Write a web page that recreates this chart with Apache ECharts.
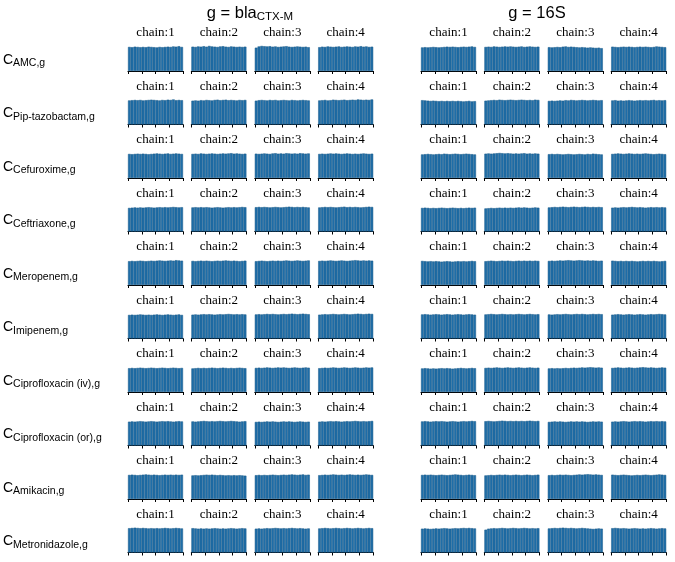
<!DOCTYPE html>
<html><head><meta charset="utf-8">
<script src="https://cdn.jsdelivr.net/npm/echarts@6/dist/echarts.min.js"></script>
<style>html,body{margin:0;padding:0;background:#fff}#c{width:675px;height:562px}</style>
</head><body><div id="c"></div><script>
const groupTitles = [['g = bla', 'CTX-M'], ['g = 16S', '']];
const rowNames = ['AMC', 'Pip-tazobactam', 'Cefuroxime', 'Ceftriaxone', 'Meropenem', 'Imipenem', 'Ciprofloxacin (iv)', 'Ciprofloxacin (or)', 'Amikacin', 'Metronidazole'];
const chainLabels = ['chain:1', 'chain:2', 'chain:3', 'chain:4'];
const tickValues = [0, 1, 2, 3, 4];

// rank histogram heights (20 bins per chain)
const AMC_bla = [
 [98,97,99,98,97,98,97,99,98,97,96,98,97,98,99,98,100,99,101,98],
 [99,98,100,99,101,99,102,100,99,98,100,101,99,98,100,99,98,99,98,99],
 [95,100,102,101,100,101,99,100,98,99,100,101,99,98,99,100,99,98,99,97],
 [97,99,98,100,99,98,99,100,98,99,100,99,98,100,99,101,99,100,98,99]];
const AMC_16S = [
 [96,97,96,97,98,97,96,97,98,99,98,99,98,97,98,99,98,99,100,98],
 [98,99,98,100,99,98,99,100,99,100,99,98,99,100,98,99,100,99,98,99],
 [97,96,97,98,97,99,100,98,99,98,97,96,97,96,95,96,95,94,95,93],
 [99,98,97,98,99,98,99,98,97,98,99,98,99,98,97,98,100,99,98,97]];
const PIP_bla = [
 [98,99,100,99,100,98,99,100,101,100,99,98,100,99,101,100,102,99,100,99],
 [97,98,97,99,98,100,99,98,100,101,99,100,101,99,100,99,98,100,99,100],
 [97,99,100,99,98,100,99,100,98,99,100,99,98,100,99,98,99,100,99,98],
 [98,99,100,98,99,101,100,99,100,101,99,100,101,100,102,101,100,101,100,102]];
const PIP_16S = [
 [99,98,97,96,97,96,95,96,95,96,95,96,95,96,95,94,95,96,94,95],
 [97,98,99,100,99,101,100,99,100,101,100,99,100,101,100,99,100,99,101,100],
 [96,97,96,97,98,97,99,98,100,99,98,99,100,99,98,99,100,99,98,99],
 [98,99,97,98,97,98,99,98,97,98,99,98,99,98,99,100,98,99,98,99]];
const CFX_bla = [
 [98,97,98,99,98,99,98,97,98,99,100,99,98,99,100,98,99,100,99,98],
 [98,99,98,100,99,98,99,100,99,98,99,100,99,100,101,99,100,99,98,99],
 [99,98,99,100,99,98,100,101,99,100,99,101,100,99,100,99,101,100,99,100],
 [98,99,98,99,100,99,100,99,98,99,100,99,98,99,98,99,100,99,98,99]];
const CFX_16S = [
 [96,97,98,97,96,97,98,97,99,98,97,98,99,98,97,98,99,98,97,96],
 [99,100,99,100,101,102,101,100,101,100,99,100,99,100,101,99,100,99,100,99],
 [97,98,97,98,97,96,97,98,97,96,97,98,97,96,98,97,99,98,97,96],
 [98,99,100,99,98,99,100,99,98,99,98,99,100,99,98,97,98,99,98,97]];
const CTR_bla = [
 [96,97,98,97,98,97,98,99,98,97,98,99,98,99,98,99,100,99,98,99],
 [98,99,98,99,98,99,98,97,98,99,98,97,98,99,98,99,98,99,100,99],
 [99,100,99,100,99,98,99,100,99,98,99,100,101,100,99,100,99,100,99,98],
 [98,99,100,99,100,99,98,99,100,101,99,100,99,100,99,98,99,100,101,100]];
const CTR_16S = [
 [96,97,96,95,96,95,96,97,96,95,96,97,96,95,96,95,96,97,96,97],
 [94,95,96,95,96,97,96,97,96,97,96,97,98,97,98,97,96,97,98,97],
 [98,99,100,99,100,101,100,99,100,101,100,99,100,101,100,99,100,99,100,99],
 [97,98,97,98,99,98,99,100,99,98,99,98,97,98,99,98,99,98,99,98]];
const MER_bla = [
 [97,98,97,98,99,98,97,98,99,98,99,100,99,98,99,100,99,101,100,99],
 [98,97,98,99,98,99,98,97,98,99,98,99,100,99,98,99,98,97,98,99],
 [97,98,99,98,97,98,99,98,99,98,99,100,99,98,99,100,99,98,99,100],
 [98,99,98,99,100,99,98,99,100,99,98,99,100,101,100,99,100,99,100,99]];
const MER_16S = [
 [98,97,96,97,96,97,96,95,96,97,96,95,96,97,96,97,96,97,98,97],
 [97,98,99,98,97,98,99,98,99,98,97,98,99,98,99,98,99,98,99,98],
 [98,99,98,99,100,99,100,101,100,99,100,101,100,99,100,99,100,99,98,99],
 [99,98,97,98,97,98,97,98,97,96,97,98,97,98,97,98,97,96,97,98]];
const IMI_bla = [
 [96,97,96,97,98,97,96,97,96,97,98,97,96,97,98,97,96,97,98,96],
 [97,98,97,98,99,98,99,98,97,98,99,98,99,100,99,98,99,98,99,98],
 [98,99,98,99,100,99,100,99,98,99,100,99,100,101,100,99,100,101,100,99],
 [97,98,99,98,99,100,99,98,99,100,99,98,99,100,101,100,99,100,101,100]];
const IMI_16S = [
 [98,99,98,97,98,99,98,97,98,99,98,97,98,99,98,97,98,99,98,97],
 [98,99,100,99,98,99,100,99,98,99,98,99,100,99,98,99,100,99,98,99],
 [98,97,98,99,98,99,100,99,98,99,100,99,100,99,98,99,100,99,100,99],
 [97,98,99,98,97,98,99,98,97,98,99,98,97,98,99,98,99,100,99,98]];
const CIV_bla = [
 [97,98,97,98,99,98,97,98,99,98,97,98,99,98,97,98,99,98,97,98],
 [96,97,98,97,98,97,98,99,98,97,98,99,98,97,98,97,98,99,98,97],
 [98,99,98,99,100,99,98,99,100,99,100,99,98,99,100,99,98,99,100,99],
 [97,98,99,98,99,100,99,98,99,100,99,98,99,100,99,98,99,100,99,100]];
const CIV_16S = [
 [96,97,96,95,96,95,96,97,96,97,96,95,96,97,98,97,96,97,98,97],
 [98,99,98,99,100,99,98,99,100,99,98,99,100,99,98,99,100,99,98,99],
 [96,97,96,97,96,97,98,97,98,99,98,99,100,99,100,101,100,99,100,99],
 [98,99,100,99,98,99,100,99,98,99,100,101,100,99,100,99,98,99,100,99]];
const COR_bla = [
 [97,98,97,98,99,98,97,98,99,98,97,98,99,98,99,98,97,98,99,98],
 [98,97,98,99,100,99,98,99,98,99,100,99,98,99,100,99,98,97,98,99],
 [96,97,96,97,98,97,98,97,96,97,98,97,98,97,96,97,98,97,96,97],
 [97,98,97,98,99,98,99,98,97,98,99,98,99,100,99,98,99,98,99,100]];
const COR_16S = [
 [98,99,98,97,98,99,98,99,98,97,98,99,98,97,98,99,98,99,100,99],
 [99,100,99,98,99,100,101,100,99,100,99,100,99,100,99,100,101,100,99,100],
 [96,97,98,97,98,97,96,97,98,97,98,97,98,97,96,97,98,97,98,97],
 [97,98,97,98,99,98,97,98,99,98,99,98,97,98,99,98,99,98,99,98]];
const AMK_bla = [
 [98,99,98,97,98,99,100,99,98,99,98,97,98,99,98,99,98,99,98,99],
 [96,97,96,97,98,99,98,99,98,97,98,97,96,97,96,97,96,97,96,95],
 [97,98,97,98,97,98,99,98,97,98,99,98,99,100,99,98,99,100,98,99],
 [97,98,99,98,99,100,99,98,99,98,99,100,99,98,99,98,99,100,99,98]];
const AMK_16S = [
 [98,99,98,99,98,97,98,99,98,97,98,99,100,99,98,97,98,99,98,97],
 [96,97,98,97,98,99,98,99,98,97,98,99,98,97,98,99,98,97,98,99],
 [97,98,97,98,99,98,99,98,97,98,99,100,99,100,101,100,99,100,99,98],
 [99,98,97,98,99,98,97,96,97,98,97,98,99,98,97,98,99,100,99,98]];
const MET_bla = [
 [99,100,101,100,99,100,99,98,99,98,99,98,99,100,99,98,99,100,99,98],
 [99,98,97,98,97,98,97,98,99,98,97,98,97,98,99,98,97,98,99,98],
 [97,98,97,98,99,98,99,100,99,98,99,98,99,100,99,98,99,98,97,98],
 [98,99,100,99,98,99,100,99,98,99,100,99,98,99,100,99,98,99,100,99]];
const MET_16S = [
 [97,98,97,96,97,98,97,98,99,98,97,98,99,98,99,100,99,100,99,98],
 [93,97,98,99,98,99,100,99,98,99,100,99,98,99,100,99,98,99,98,99],
 [98,99,100,99,100,101,100,99,100,99,98,99,100,99,98,97,96,97,98,97],
 [99,100,99,98,99,98,97,98,99,98,97,98,97,98,99,98,97,98,99,98]];

const rowData = [
 [AMC_bla, AMC_16S], [PIP_bla, PIP_16S], [CFX_bla, CFX_16S], [CTR_bla, CTR_16S],
 [MER_bla, MER_16S], [IMI_bla, IMI_16S], [CIV_bla, CIV_16S], [COR_bla, COR_16S],
 [AMK_bla, AMK_16S], [MET_bla, MET_16S]];

// layout
const groupLeft = [128, 421];
const panelStep = 63.4;
const panelW = 55;
const axisY0 = 71;
const rowStep = 53.5;
const gridH = 27;
const titleCenters = [250, 537];
const SANS = '"Liberation Sans", Arial, sans-serif';
const SERIF = '"Liberation Serif", "Times New Roman", serif';

const grid = [], xAxis = [], yAxis = [], series = [], graphic = [];
let k = 0;
rowData.forEach((row, r) => {
  const axisY = axisY0 + r * rowStep;
  row.forEach((chains, g) => {
    chains.forEach((vals, c) => {
      const left = groupLeft[g] + c * panelStep;
      grid.push({left: left, top: axisY - gridH, width: panelW, height: gridH});
      xAxis.push({type: 'category', gridIndex: k, data: vals.map((_, i) => i), boundaryGap: true,
        axisLine: {show: true, lineStyle: {color: '#000', width: 1.2}}, axisTick: {show: false},
        axisLabel: {show: false}, splitLine: {show: false}});
      xAxis.push({type: 'value', gridIndex: k, min: tickValues[0], max: tickValues[tickValues.length - 1], interval: 1,
        position: 'bottom', axisLine: {show: false}, axisTick: {show: true, length: 3, lineStyle: {color: '#000', width: 1}},
        axisLabel: {show: false}, splitLine: {show: false}});
      yAxis.push({type: 'value', gridIndex: k, min: 0, max: 110, show: false});
      series.push({type: 'bar', xAxisIndex: 2 * k, yAxisIndex: k, data: vals, barCategoryGap: '0%', silent: true,
        itemStyle: {color: '#1f6ea8', borderColor: '#185887', borderWidth: 0.5}});
      graphic.push({type: 'text', x: left + panelW / 2, y: axisY - 38, silent: true,
        style: {text: chainLabels[c], font: '13px ' + SERIF, fill: '#000', align: 'center', verticalAlign: 'middle'}});
      k++;
    });
  });
  graphic.push({type: 'text', x: 3, y: axisY - 11, silent: true,
    style: {text: '{m|C}{s|' + rowNames[r] + ',g}', align: 'left', verticalAlign: 'middle', fill: '#000',
      rich: {m: {fontSize: 14, fontFamily: SANS, lineHeight: 18, verticalAlign: 'middle'},
             s: {fontSize: 10.5, fontFamily: SANS, lineHeight: 11, verticalAlign: 'bottom'}}}});
});
groupTitles.forEach((t, g) => {
  graphic.push({type: 'text', x: titleCenters[g], y: 13, silent: true,
    style: {text: '{m|' + t[0] + '}' + (t[1] ? '{s|' + t[1] + '}' : ''), align: 'center', verticalAlign: 'middle', fill: '#000',
      rich: {m: {fontSize: 16.5, fontFamily: SANS, lineHeight: 20, verticalAlign: 'middle'},
             s: {fontSize: 11.5, fontFamily: SANS, lineHeight: 12, verticalAlign: 'bottom'}}}});
});

const chart = echarts.init(document.getElementById('c'), null, {renderer: 'canvas'});
chart.setOption({animation: false, grid, xAxis, yAxis, series, graphic});
</script></body></html>
